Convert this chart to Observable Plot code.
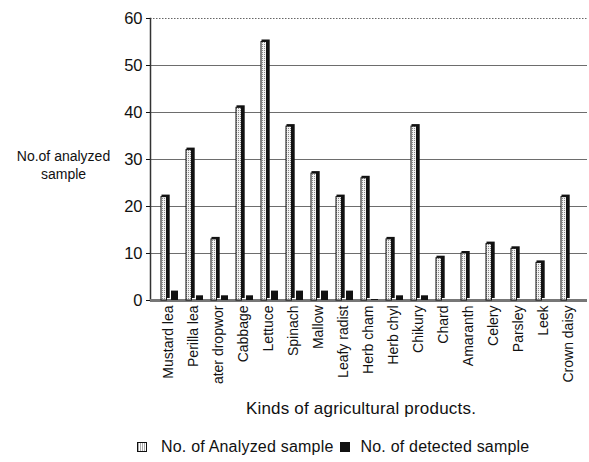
<!DOCTYPE html>
<html>
<head>
<meta charset="utf-8">
<script src="https://cdn.jsdelivr.net/npm/d3@7"></script>
<script src="https://cdn.jsdelivr.net/npm/@observablehq/plot@0.6"></script>
<style>
  html, body { margin: 0; padding: 0; background: #fff; }
  body { width: 589px; height: 462px; overflow: hidden; font-family: "Liberation Sans", Arial, sans-serif; color: #111; }
  #xlabel { position: absolute; left: 146px; width: 430px; top: 399px; text-align: center; font-size: 17px; letter-spacing: 0.2px; }
  #legend { position: absolute; left: 137px; top: 438px; display: flex; align-items: center; font-size: 16px; letter-spacing: 0.2px; white-space: nowrap; }
  .sw { display: inline-block; width: 8px; height: 8px; border: 1px solid #111; margin-right: 14px; }
  .sw.a { background: repeating-linear-gradient(90deg, #aaa 0 1px, #fff 1px 2px); }
  .sw.d { background: #111; margin-left: 6px; margin-right: 11px; }
</style>
</head>
<body>
<div id="chart"></div>
<div id="xlabel">Kinds of agricultural products.</div>
<div id="legend"><span class="sw a"></span>No. of Analyzed sample<span class="sw d"></span>No. of detected sample</div>
<script>
const categories = ["Mustard lea", "Perilla lea", "ater dropwor", "Cabbage", "Lettuce", "Spinach", "Mallow", "Leafy radist", "Herb cham", "Herb chyl", "Chikury", "Chard", "Amaranth", "Celery", "Parsley", "Leek", "Crown daisy"];
const analyzed = [22, 32, 13, 41, 55, 37, 27, 22, 26, 13, 37, 9, 10, 12, 11, 8, 22];
const detected = [2, 1, 1, 1, 2, 2, 2, 2, 0.2, 1, 1, 0, 0, 0, 0, 0, 0];
const yTicks = [0, 10, 20, 30, 40, 50, 60];
const yLabel = "No.of analyzed\nsample";

const rows = categories.map((c, i) => ({category: c, analyzed: analyzed[i], detected: detected[i]}));

const svg = Plot.plot({
  width: 589,
  height: 400,
  marginLeft: 150,
  marginRight: 2,
  marginTop: 18,
  marginBottom: 100,
  style: {fontFamily: "'Liberation Sans', Arial, sans-serif", background: "white", color: "#111"},
  x: {domain: categories, padding: 0, label: null},
  y: {domain: [0, 60], label: null},
  marks: [
    Plot.gridY(yTicks.filter(d => d > 0 && d < 60), {stroke: "#333", strokeOpacity: 0.8, strokeWidth: 0.9}),
    Plot.gridY([60], {stroke: "#666", strokeOpacity: 1, strokeDasharray: "1.5,1.5"}),
    Plot.frame({anchor: "left", stroke: "#333", strokeWidth: 1.5}),
    Plot.ruleY([0], {stroke: "#777", strokeWidth: 3}),
    // depth (3D side) of analyzed bars
    Plot.barY(rows, {x: "category", y: "analyzed", fill: "#111", insetLeft: 5.5, insetRight: 11.3, dy: -2}),
    // analyzed bars
    Plot.barY(rows, {x: "category", y: "analyzed", fill: "url(#dots)", stroke: "#111", strokeWidth: 1, insetLeft: 5, insetRight: 14.5}),
    // detected bars
    Plot.barY(rows, {x: "category", y: "detected", fill: "#111", insetLeft: 15, insetRight: 3}),
    Plot.axisY({ticks: yTicks, tickSize: 4, tickPadding: 4, fontSize: 16.5, tickFormat: d => String(d), label: null}),
    Plot.axisX({tickRotate: -90, tickSize: 0, tickPadding: 5, fontSize: 14, label: null}),
    Plot.text([yLabel], {frameAnchor: "left", dx: -87, dy: 5, textAnchor: "middle", fontSize: 14, lineHeight: 1.3})
  ]
});

svg.insertAdjacentHTML("afterbegin",
  '<defs><pattern id="dots" width="2" height="2" patternUnits="userSpaceOnUse">' +
  '<rect width="2" height="2" fill="#f2f2f2"/><rect width="1" height="1" fill="#888"/>' +
  '</pattern></defs>');

document.getElementById("chart").appendChild(svg);
</script>
</body>
</html>
